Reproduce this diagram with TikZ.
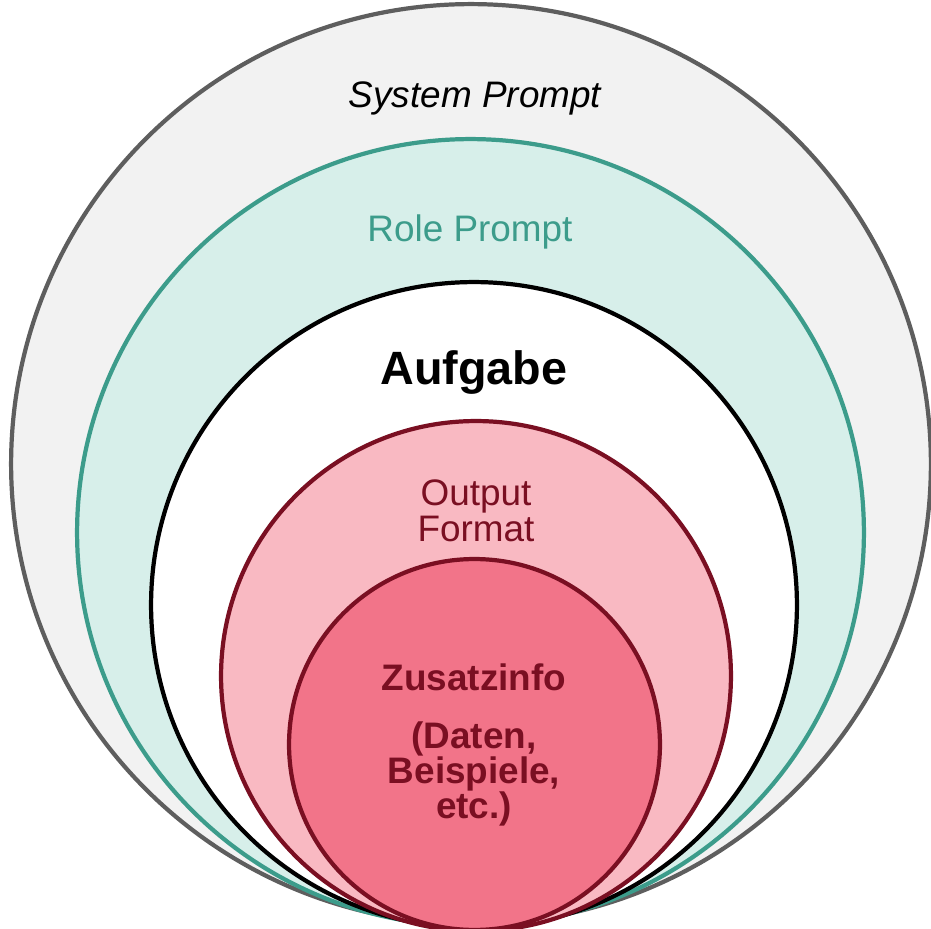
\documentclass[tikz,border=0pt]{standalone}
\usepackage{fontspec}
\setmainfont{Liberation Sans}
\definecolor{sysfill}{HTML}{F2F2F2}
\definecolor{sysline}{HTML}{5E5E5E}
\definecolor{rolefill}{HTML}{D7EFEA}
\definecolor{roleline}{HTML}{3C9C8B}
\definecolor{taskfill}{HTML}{FFFFFF}
\definecolor{taskline}{HTML}{000000}
\definecolor{outfill}{HTML}{F9B9C2}
\definecolor{infofill}{HTML}{F27489}
\definecolor{redline}{HTML}{7A0F22}
\begin{document}
\begin{tikzpicture}
[x=0.02cm,y=-0.02cm,
  ringdecorate/.style={shape=circle,inner sep=0pt,outer sep=0pt,line width=2.4pt},%
  labeldecorate/.style={anchor=base,inner sep=0pt,align=center,font=\fontsize{21}{20.5}\selectfont#1},%
  labeldecorate/.default={}]
\useasboundingbox (0,0) rectangle (931,929);
%% rings, outermost first
\foreach \nodename/\x/\y/\d/\fillcol/\drawcol in {system/471/464/18.4/sysfill/sysline,
    role/470.5/532.5/15.74/rolefill/roleline, task/474/605/12.92/taskfill/taskline,
    output/476/676/10.2/outfill/redline, info/474.5/744.5/7.42/infofill/redline} {
  \node (\nodename) at (\x,\y) [ringdecorate,minimum size=\d cm,fill=\fillcol,draw=\drawcol] {};
}
%% labels (base = last line)
\node (systemlabel) at (475,108) [labeldecorate=\itshape] {System Prompt};
\node (rolelabel) at (470,242) [labeldecorate,text=roleline] {Role Prompt};
\node (tasklabel) at (474,385) [labeldecorate,font=\fontsize{26.6}{30}\selectfont\bfseries] {Aufgabe};
\node (outputlabel) at (476,542) [labeldecorate,text=redline] {Output\\Format};
\node (infolabel) at (474,690) [labeldecorate=\bfseries,text=redline] {Zusatzinfo};
\node (detaillabel) at (474,818) [labeldecorate,font=\fontsize{21}{19.8}\selectfont\bfseries,text=redline] {(Daten,\\Beispiele,\\etc.)};
\end{tikzpicture}
\end{document}
